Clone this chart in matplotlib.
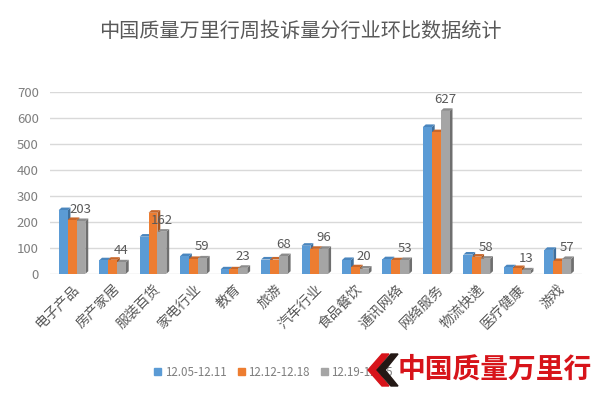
import numpy as np
import matplotlib
matplotlib.use("Agg")
import matplotlib.pyplot as plt
from matplotlib.patches import Patch, Polygon

plt.rcParams['font.family'] = ['Noto Sans CJK SC', 'DejaVu Sans']

# data
categories = ["电子产品", "房产家居", "服装百货", "家电行业", "教育", "旅游", "汽车行业",
              "食品餐饮", "通讯网络", "网络服务", "物流快递", "医疗健康", "游戏"]
week1 = [245, 52, 143, 68, 17, 55, 108, 53, 56, 565, 74, 25, 92]
week2 = [207, 54, 235, 57, 17, 55, 96, 25, 52, 545, 66, 22, 49]
week3 = [203, 44, 162, 59, 23, 68, 96, 20, 53, 627, 58, 13, 57]
series_names = ["12.05-12.11", "12.12-12.18", "12.19-12.25"]

front = ["#5B9BD5", "#ED7D31", "#A5A5A5"]
side = ["#3F6F9C", "#A9561F", "#6F6F6F"]
top = ["#4A86BE", "#C9672A", "#8C8C8C"]

fig = plt.figure(figsize=(6, 3.98), dpi=100)
ax = fig.add_axes([0.083, 0.312, 0.887, 0.457])

x = np.arange(len(categories))
w = 0.22
dx, dy = 0.07, 10

for k, vals in enumerate([week1, week2, week3]):
    xs = x + (k - 1) * w
    for xi, h in zip(xs, vals):
        l, r = xi - w / 2, xi + w / 2
        # side face
        ax.fill([r, r + dx, r + dx, r], [0, dy, h + dy, h], color=side[k], lw=0, zorder=3 + k)
        # top face
        ax.fill([l, l + dx, r + dx, r], [h, h + dy, h + dy, h], color=top[k], lw=0, zorder=3 + k)
    ax.bar(xs, vals, width=w, color=front[k], zorder=3 + k, linewidth=0)

# labels on last series
for xi, h in zip(x + w, week3):
    ax.text(xi, h + 45, str(h), ha="center", va="center", fontsize=9.5,
            color="#595959", zorder=10)

ax.set_xlim(-0.55, 12.6)
ax.set_ylim(0, 700)
ax.set_yticks(range(0, 701, 100))
ax.grid(axis="y", color="#D9D9D9", lw=1, zorder=0)
ax.set_axisbelow(True)
for s in ax.spines.values():
    s.set_visible(False)
ax.tick_params(axis="both", length=0, colors="#7F7F7F", labelsize=9.5)
ax.tick_params(axis="y", pad=8)
ax.tick_params(axis="x", pad=6)
ax.set_xticks(x)
ax.set_xticklabels(categories, rotation=45, ha="right", rotation_mode="anchor",
                   fontsize=10, color="#595959")

fig.text(0.5, 0.922, "中国质量万里行周投诉量分行业环比数据统计", ha="center", va="center",
         fontsize=14.5, color="#595959")

handles = [Patch(color=c) for c in front]
fig.legend(handles, series_names, loc="center left", bbox_to_anchor=(0.257, 0.065), ncol=3,
           frameon=False, handlelength=0.6, handleheight=0.6, columnspacing=1.0,
           handletextpad=0.3, fontsize=8.3, labelcolor="#7F7F7F", borderpad=0,
           borderaxespad=0)

# watermark logo
fig.patches.append(plt.Rectangle((366 / 600, 0.0), 1 - 366 / 600, 0.125,
                                 transform=fig.transFigure, color="white", zorder=5))
W, H = 600.0, 398.0
def px(pts):
    return [(a / W, 1 - b / H) for a, b in pts]
red_chev = px([(382, 354), (368, 370), (382, 386), (389, 386), (376, 370), (389, 354)])
blk_chev = px([(391, 354), (377, 370), (391, 386), (398, 386), (385, 370), (398, 354)])
fig.patches.append(Polygon(red_chev, closed=True, transform=fig.transFigure, color="#D7141A", zorder=6))
fig.patches.append(Polygon(blk_chev, closed=True, transform=fig.transFigure, color="#231815", zorder=6))
fig.text(0.662, 0.07, "中国质量万里行", ha="left", va="center", fontsize=20,
         color="#D7141A", fontweight="bold", zorder=7)

fig.savefig("out.png", dpi=100, facecolor="white")
